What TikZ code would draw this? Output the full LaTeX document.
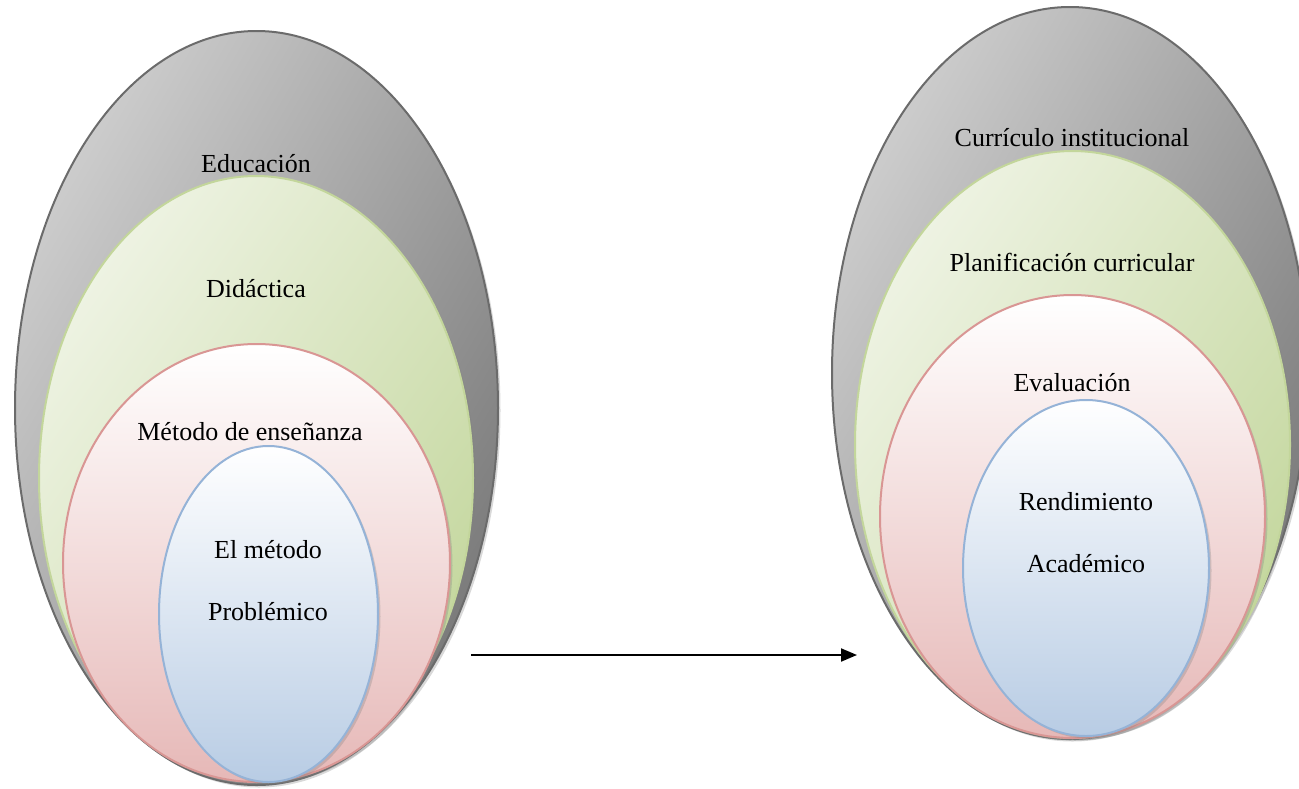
\documentclass[tikz,border=0pt]{standalone}
\usepackage{fontspec}
\setmainfont{Liberation Serif}
\usetikzlibrary{shapes.geometric,shadows,arrows.meta}
\definecolor{grayline}{HTML}{6B6B6B}
\definecolor{graylight}{HTML}{CDCDCD}
\definecolor{graydark}{HTML}{7A7A7A}
\definecolor{greenline}{HTML}{C3D69B}
\definecolor{greenlight}{HTML}{EEF3E3}
\definecolor{greendark}{HTML}{C4D79E}
\definecolor{pinkline}{HTML}{D99694}
\definecolor{pinklight}{HTML}{FFFFFF}
\definecolor{pinkdark}{HTML}{E6B8B7}
\definecolor{blueline}{HTML}{95B3D7}
\definecolor{bluelight}{HTML}{FFFFFF}
\definecolor{bluedark}{HTML}{B8CCE4}
\begin{document}
\begin{tikzpicture}[x=1pt,y=-1pt,
  set/.style={ellipse, line width=2pt, inner sep=0pt, outer sep=0pt,
    drop shadow={shadow xshift=2.5pt, shadow yshift=-2.5pt, opacity=0.3}},
  gray set/.style={set, draw=grayline, top color=graylight, bottom color=graydark, shading angle=60},
  green set/.style={set, draw=greenline, top color=greenlight, bottom color=greendark, shading angle=55},
  pink set/.style={set, draw=pinkline, top color=pinklight, bottom color=pinkdark},
  blue set/.style={set, draw=blueline, top color=bluelight, bottom color=bluedark},
  set label/.style={font=\fontsize{26}{30}\selectfont, inner sep=0pt}]
  \useasboundingbox (0,0) rectangle (1299,788);

  % left group
  \node[gray set, minimum width=483pt, minimum height=754pt] (educacion) at (256.5,408) {};
  \node[green set, minimum width=434pt, minimum height=604pt] (didactica) at (256,478) {};
  \node[pink set, minimum width=387pt, minimum height=438pt] (metodo) at (256.5,563) {};
  \node[blue set, minimum width=219pt, minimum height=336pt] (problemico) at (268.5,614) {};

  \node[set label] (educacion text) at (256,164) {Educación};
  \node[set label] (didactica text) at (256,289) {Didáctica};
  \node[set label] (metodo text) at (250,432) {Método de enseñanza};
  \node[set label] (problemico text1) at (268,550) {El método};
  \node[set label] (problemico text2) at (268,612) {Problémico};

  % right group
  \node[gray set, minimum width=476pt, minimum height=732pt] (curriculo) at (1070,373) {};
  \node[green set, minimum width=435pt, minimum height=587pt] (planificacion) at (1072.5,444.5) {};
  \node[pink set, minimum width=385pt, minimum height=443pt] (evaluacion) at (1072.5,516.5) {};
  \node[blue set, minimum width=246pt, minimum height=336pt] (rendimiento) at (1086,568) {};

  \node[set label] (curriculo text) at (1072,138) {Currículo institucional};
  \node[set label] (planificacion text) at (1072,262) {Planificación curricular};
  \node[set label] (evaluacion text) at (1072,383) {Evaluación};
  \node[set label] (rendimiento text1) at (1086,502) {Rendimiento};
  \node[set label] (rendimiento text2) at (1086,564) {Académico};

  % arrow between the groups
  \coordinate (arrow start) at (471,655);
  \coordinate (arrow end) at (857,655);
  \draw[-{Triangle[length=16pt,width=13pt]}, line width=2pt] (arrow start) -- (arrow end);
\end{tikzpicture}
\end{document}
